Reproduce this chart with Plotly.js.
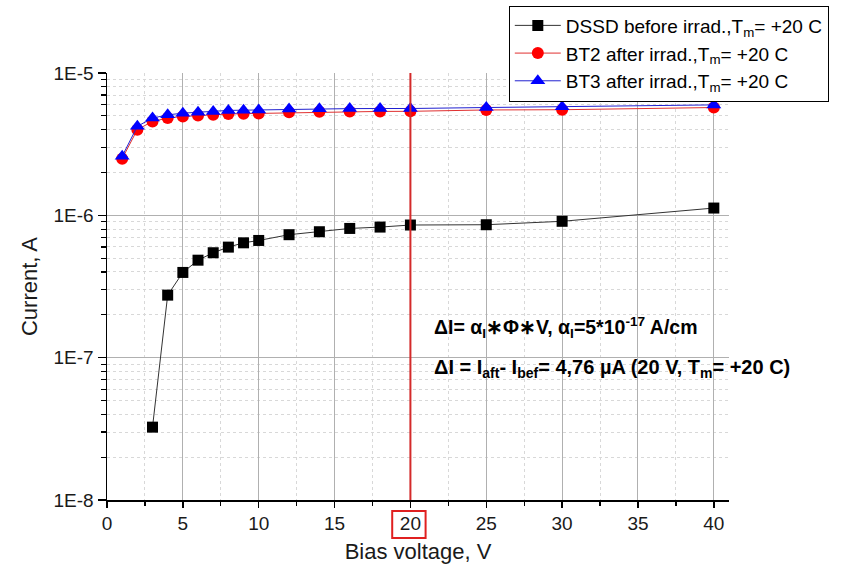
<!DOCTYPE html>
<html>
<head>
<meta charset="utf-8">
<script src="https://cdn.plot.ly/plotly-3.0.1.min.js"></script>
<style>html,body{margin:0;padding:0;background:#fff;}#chart{width:852px;height:568px;}</style>
</head>
<body>
<div id="chart"></div>
<script>
// Data
var dssdVoltage = [3, 4, 5, 6, 7, 8, 9, 10, 12, 14, 16, 18, 20, 25, 30, 40];
var dssdCurrent = [3.25e-8, 2.75e-7, 3.97e-7, 4.84e-7, 5.46e-7, 5.98e-7, 6.41e-7, 6.66e-7, 7.31e-7, 7.67e-7, 8.09e-7, 8.27e-7, 8.55e-7, 8.59e-7, 9.08e-7, 1.125e-6];

var btVoltage = [1, 2, 3, 4, 5, 6, 7, 8, 9, 10, 12, 14, 16, 18, 20, 25, 30, 40];
var bt2Current = [2.5e-6, 4.0e-6, 4.57e-6, 4.82e-6, 4.95e-6, 5.03e-6, 5.08e-6, 5.15e-6, 5.18e-6, 5.2e-6, 5.3e-6, 5.34e-6, 5.36e-6, 5.37e-6, 5.38e-6, 5.5e-6, 5.52e-6, 5.72e-6];
var bt3Current = [2.6e-6, 4.22e-6, 4.82e-6, 5.08e-6, 5.22e-6, 5.31e-6, 5.36e-6, 5.46e-6, 5.48e-6, 5.5e-6, 5.58e-6, 5.6e-6, 5.62e-6, 5.63e-6, 5.63e-6, 5.72e-6, 5.8e-6, 5.97e-6];

var seriesNames = [
  'DSSD before irrad.,T<sub>m</sub>= +20 C',
  'BT2 after irrad.,T<sub>m</sub>= +20 C',
  'BT3 after irrad.,T<sub>m</sub>= +20 C'
];

var yTickVals = [1e-8, 1e-7, 1e-6, 1e-5];
var yTickText = ['1E-8', '1E-7', '1E-6', '1E-5'];
var xTickVals = [0, 5, 10, 15, 20, 25, 30, 35, 40];

var markedVoltage = 20;
var note1 = '<b>ΔI= α<sub>I</sub>∗Φ∗V, α<sub>I</sub>=5*10<sup>-17</sup> A/cm</b>';
var note2 = '<b>ΔI = I<sub>aft</sub>- I<sub>bef</sub>= 4,76 µA (20 V, T<sub>m</sub>= +20 C)</b>';

// minor log tick positions (2..9 per decade)
var yMinor = [];
for (var d = -8; d < -5; d++) {
  for (var k = 2; k <= 9; k++) yMinor.push(k * Math.pow(10, d));
}

var font = 'Liberation Sans, Arial, sans-serif';

var traces = [
  {
    x: dssdVoltage, y: dssdCurrent, name: seriesNames[0], type: 'scatter', mode: 'lines+markers',
    line: {color: '#333333', width: 1},
    marker: {symbol: 'square', size: 11, color: '#000000'}
  },
  {
    x: btVoltage, y: bt2Current, name: seriesNames[1], type: 'scatter', mode: 'lines+markers',
    line: {color: '#e03030', width: 1},
    marker: {symbol: 'circle', size: 12, color: '#ff0000'}
  },
  {
    x: btVoltage, y: bt3Current, name: seriesNames[2], type: 'scatter', mode: 'lines+markers',
    line: {color: '#2020d0', width: 1},
    marker: {symbol: 'triangle-up', size: 13, color: '#0000ff'}
  }
];

var layout = {
  width: 852, height: 568,
  margin: {l: 107, r: 123, t: 73, b: 68, pad: 0, autoexpand: false},
  paper_bgcolor: '#ffffff', plot_bgcolor: '#ffffff',
  font: {family: font, size: 19, color: '#1a1a1a'},
  showlegend: true,
  legend: {
    x: 0.646, y: 1.158, xanchor: 'left', yanchor: 'top',
    bgcolor: '#ffffff', bordercolor: '#000000', borderwidth: 1,
    font: {family: font, size: 19, color: '#000000'},
    itemwidth: 46, tracegroupgap: 0
  },
  xaxis: {
    range: [0, 41], tickmode: 'array', tickvals: xTickVals,
    showline: true, linecolor: '#000000', linewidth: 1.5,
    ticks: 'outside', ticklen: 6, tickwidth: 1.5, tickcolor: '#000000',
    showgrid: true, gridcolor: '#b0b0b0', gridwidth: 1,
    zeroline: false, mirror: false,
    tickfont: {family: font, size: 19, color: '#1a1a1a'},
    minor: {dtick: 2.5, tick0: 0, ticks: 'outside', ticklen: 4, tickwidth: 1.2, tickcolor: '#000000',
            showgrid: true, gridcolor: '#d8d8d8', griddash: 'dot', gridwidth: 1},
    title: {text: 'Bias voltage, V', font: {family: font, size: 22, color: '#1a1a1a'}, standoff: 10}
  },
  yaxis: {
    type: 'log', range: [-8, -5], tickmode: 'array', tickvals: yTickVals, ticktext: yTickText,
    showline: true, linecolor: '#000000', linewidth: 1.5,
    ticks: 'outside', ticklen: 8, tickwidth: 1.5, tickcolor: '#000000',
    showgrid: true, gridcolor: '#b0b0b0', gridwidth: 1,
    zeroline: false,
    tickfont: {family: font, size: 19, color: '#1a1a1a'},
    minor: {tickmode: 'array', tickvals: yMinor, ticks: 'outside', ticklen: 5, tickwidth: 1.2, tickcolor: '#000000',
            showgrid: true, gridcolor: '#d8d8d8', griddash: 'dot', gridwidth: 1},
    title: {text: 'Current, A', font: {family: font, size: 22, color: '#1a1a1a'}, standoff: 10}
  },
  shapes: [
    {type: 'line', xref: 'x', yref: 'paper', x0: markedVoltage, x1: markedVoltage, y0: 0, y1: 1,
     line: {color: '#d42a2a', width: 2}},
    {type: 'rect', xref: 'x', yref: 'paper', x0: markedVoltage - 1.2, x1: markedVoltage + 1.0, y0: -0.089, y1: -0.026,
     line: {color: '#e02020', width: 2}, fillcolor: 'rgba(0,0,0,0)'}
  ],
  annotations: [
    {xref: 'paper', yref: 'paper', x: (432 - 107) / 622, y: (500 - 327) / 427, xanchor: 'left', yanchor: 'middle',
     text: note1, showarrow: false, font: {family: font, size: 19.5, color: '#000000'}},
    {xref: 'paper', yref: 'paper', x: (432 - 107) / 622, y: (500 - 368) / 427, xanchor: 'left', yanchor: 'middle',
     text: note2, showarrow: false, font: {family: font, size: 20, color: '#000000'}}
  ]
};

Plotly.newPlot('chart', traces, layout, {displayModeBar: false, staticPlot: true});
</script>
</body>
</html>
